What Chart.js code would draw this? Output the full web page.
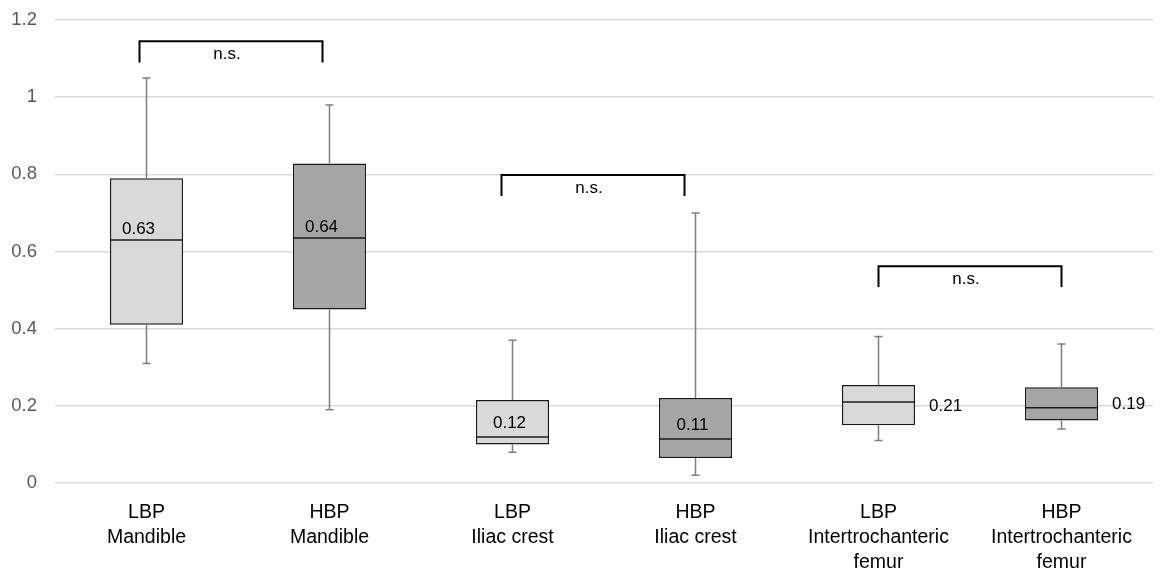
<!DOCTYPE html>
<html>
<head>
<meta charset="utf-8">
<script src="https://cdn.jsdelivr.net/npm/chart.js@4"></script>
<style>
  body { margin: 0; background: #fff; }
  #wrap { width: 1167px; height: 568px; }
</style>
</head>
<body>
<div id="wrap"><canvas id="boxChart"></canvas></div>
<script>
// box plot data
const categories = [
  ["LBP", "Mandible"], ["HBP", "Mandible"],
  ["LBP", "Iliac crest"], ["HBP", "Iliac crest"],
  ["LBP", "Intertrochanteric", "femur"], ["HBP", "Intertrochanteric", "femur"]
];
const whiskerMin = [0.31, 0.19, 0.08, 0.02, 0.11, 0.14];
const quartile1 = [0.41, 0.45, 0.10, 0.065, 0.15, 0.162];
const medians = [0.63, 0.635, 0.119, 0.114, 0.21, 0.195];
const quartile3 = [0.79, 0.828, 0.215, 0.22, 0.254, 0.248];
const whiskerMax = [1.05, 0.98, 0.37, 0.70, 0.38, 0.36];
const medianLabels = ["0.63", "0.64", "0.12", "0.11", "0.21", "0.19"];
const yTickLabels = ["0", "0.2", "0.4", "0.6", "0.8", "1", "1.2"];

// significance brackets: pairs of categories, top and foot heights
const bracketPairs = [[0, 1], [2, 3], [4, 5]];
const bracketTop = [1.145, 0.798, 0.562];
const bracketFoot = [1.09, 0.744, 0.508];
const bracketText = ["n.s.", "n.s.", "n.s."];

const FONT = "'Liberation Sans', Arial, sans-serif";
const lightFill = "#d9d9d9";
const darkFill = "#a5a5a5";

// whiskers, medians, labels and brackets
const boxExtras = {
  id: "boxExtras",
  afterDatasetsDraw(chart, args, opts) {
    const { ctx, scales: { x, y } } = chart;
    const bars = chart.getDatasetMeta(0).data;
    ctx.save();
    bars.forEach((bar, i) => {
      const cx = bar.x;
      const half = bar.width / 2;
      // whiskers
      ctx.strokeStyle = "#7f7f7f";
      ctx.lineWidth = 1.5;
      ctx.beginPath();
      ctx.moveTo(cx, y.getPixelForValue(quartile3[i]));
      ctx.lineTo(cx, y.getPixelForValue(whiskerMax[i]));
      ctx.moveTo(cx, y.getPixelForValue(quartile1[i]));
      ctx.lineTo(cx, y.getPixelForValue(whiskerMin[i]));
      ctx.moveTo(cx - 4, y.getPixelForValue(whiskerMax[i]));
      ctx.lineTo(cx + 4, y.getPixelForValue(whiskerMax[i]));
      ctx.moveTo(cx - 4, y.getPixelForValue(whiskerMin[i]));
      ctx.lineTo(cx + 4, y.getPixelForValue(whiskerMin[i]));
      ctx.stroke();
      // median line
      const my = y.getPixelForValue(medians[i]);
      ctx.strokeStyle = "#1a1a1a";
      ctx.lineWidth = 1.5;
      ctx.beginPath();
      ctx.moveTo(cx - half, my);
      ctx.lineTo(cx + half, my);
      ctx.stroke();
      // median label
      ctx.fillStyle = "#000";
      ctx.font = "17px " + FONT;
      const side = opts.labelSide[i];
      if (side === "right") {
        ctx.textAlign = "left";
        ctx.textBaseline = "middle";
        ctx.fillText(medianLabels[i], cx + half + 14, my + (i === 4 ? 4 : -3));
      } else {
        ctx.textAlign = "center";
        ctx.textBaseline = "bottom";
        ctx.fillText(medianLabels[i], cx - (side === "above" ? 8 : 3), my - (side === "above" ? 2 : 5));
      }
    });
    // brackets
    ctx.strokeStyle = "#000";
    ctx.lineWidth = 2;
    bracketPairs.forEach((pair, k) => {
      const x1 = x.getPixelForValue(pair[0]) + opts.bracketShift[k];
      const x2 = x.getPixelForValue(pair[1]) + opts.bracketShift[k];
      const yt = y.getPixelForValue(bracketTop[k]);
      const yf = y.getPixelForValue(bracketFoot[k]);
      ctx.beginPath();
      ctx.moveTo(x1, yf);
      ctx.lineTo(x1, yt);
      ctx.lineTo(x2, yt);
      ctx.lineTo(x2, yf);
      ctx.stroke();
      ctx.fillStyle = "#000";
      ctx.font = "17px " + FONT;
      ctx.textAlign = "center";
      ctx.textBaseline = "middle";
      ctx.fillText(bracketText[k], (x1 + x2) / 2 - 4, yt + 13);
    });
    ctx.restore();
  }
};

new Chart(document.getElementById("boxChart"), {
  type: "bar",
  data: {
    labels: categories,
    datasets: [{
      data: quartile1.map((q, i) => [q, quartile3[i]]),
      backgroundColor: categories.map((c, i) => i % 2 === 0 ? lightFill : darkFill),
      borderColor: "#1a1a1a",
      borderWidth: 1.5,
      borderSkipped: false,
      barPercentage: 0.4,
      categoryPercentage: 1
    }]
  },
  options: {
    responsive: true,
    maintainAspectRatio: false,
    animation: false,
    layout: { padding: { top: 20, right: 14, bottom: 0, left: 0 } },
    plugins: {
      legend: { display: false },
      tooltip: { enabled: false },
      boxExtras: {
        labelSide: ["above", "above", "inside", "inside", "right", "right"],
        bracketShift: [-7, -11, 0]
      }
    },
    scales: {
      x: {
        grid: { display: false, drawTicks: false },
        border: { display: false },
        ticks: {
          color: "#000",
          font: { family: FONT, size: 19.5, lineHeight: 1.28 },
          padding: 17,
          maxRotation: 0,
          autoSkip: false
        },
        afterFit(scale) { scale.height = 85; }
      },
      y: {
        min: 0,
        max: 1.2,
        grid: { color: "#d9d9d9", lineWidth: 1.5, drawTicks: false },
        border: { display: false },
        ticks: {
          stepSize: 0.2,
          color: "#595959",
          font: { family: FONT, size: 18.5 },
          padding: 18,
          callback: (v, idx) => yTickLabels[idx]
        },
        afterFit(scale) {
          scale.width = 55;
          scale.paddingTop = 0;
          scale.paddingBottom = 0;
        }
      }
    }
  },
  plugins: [boxExtras]
});
</script>
</body>
</html>
